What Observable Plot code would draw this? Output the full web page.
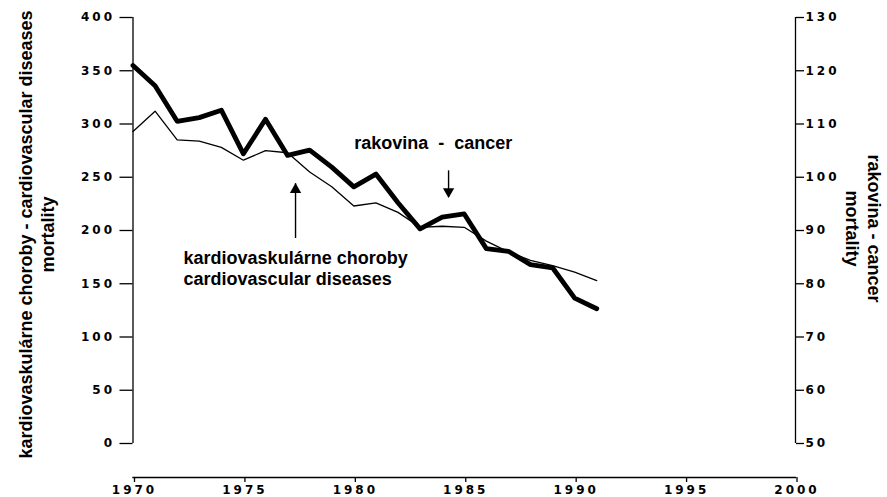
<!DOCTYPE html>
<html><head><meta charset="utf-8">
<script src="https://cdn.jsdelivr.net/npm/d3@7"></script>
<script src="https://cdn.jsdelivr.net/npm/@observablehq/plot@0.6"></script>
<style>
html,body{margin:0;padding:0;background:#fff;}
#chart svg{display:block;}
g[aria-label$="tick label"] text{letter-spacing:3px;}
</style></head><body><div id="chart"></div>
<script>
// ---- data ----
const years = [1970,1971,1972,1973,1974,1975,1976,1977,1978,1979,1980,1981,1982,1983,1984,1985,1986,1987,1988,1989,1990,1991];
// cardiovascular diseases mortality (left axis)
const cardiovascular = [293,312,285,284,278,266,275,273,255,241,223,226,217,203,204,203,190,180,172,167,161,153];
// cancer mortality (right axis)
const cancer = [121.0,117.2,110.5,111.2,112.6,104.4,110.9,104.1,105.1,101.9,98.2,100.6,95.2,90.3,92.5,93.1,86.6,86.1,83.6,83.0,77.3,75.3];
const leftTicks = [0,50,100,150,200,250,300,350,400];
const rightTicks = [50,60,70,80,90,100,110,120,130];
const xTicks = [1970,1975,1980,1985,1990,1995,2000];
const leftTitle = "kardiovaskulárne choroby - cardiovascular diseases\nmortality";
const rightTitle = "rakovina - cancer\nmortality";
const cancerLabel = [{year: 1983.6, value: 282, text: "rakovina \u00a0-\u00a0 cancer"}];
const cvLabel = [{year: 1972.29, value: 165, text: "kardiovaskulárne choroby\ncardiovascular diseases"}];
const arrows = [
  {year: 1984.29, from: 256, to: 231, dir: "down"},
  {year: 1977.36, from: 192.5, to: 244, dir: "up"}
];

// right axis (cancer) expressed in left-axis units
const toLeft = v => (v - 50) * 5;
const fromLeft = v => v / 5 + 50;

const rows = years.map((year, i) => ({year, cv: cardiovascular[i], cancer: toLeft(cancer[i])}));

const font = "Liberation Sans, Arial, sans-serif";
const tickFont = "DejaVu Sans, sans-serif";

const chart = Plot.plot({
  width: 887,
  height: 497,
  marginLeft: 132.5,
  marginRight: 92,
  marginTop: 17,
  marginBottom: 20,
  style: {background: "#fff", color: "#000", overflow: "visible"},
  x: {domain: [1970, 2000]},
  y: {domain: [0, 400], range: [443, 17]},
  marks: [
    // axes
    Plot.frame({anchor: "bottom", stroke: "#000", strokeWidth: 1.3}),
    Plot.axisX({ticks: xTicks, tickFormat: d => String(d), tickSize: 5, tickPadding: 2.5,
      fontFamily: tickFont, fontSize: 12, fontWeight: "bold", strokeWidth: 1.3, dx: 1.5, label: null}),
    Plot.ruleX([1970], {y1: 0, y2: 400, stroke: "#000", strokeWidth: 1.3}),
    Plot.axisY({anchor: "left", ticks: leftTicks, tickFormat: d => String(d), tickSize: 13, tickPadding: 5,
      fontFamily: tickFont, fontSize: 12, fontWeight: "bold", strokeWidth: 1.3, label: null}),
    Plot.ruleX([2000], {y1: 0, y2: 400, stroke: "#000", strokeWidth: 1.3}),
    Plot.axisY({anchor: "right", ticks: rightTicks.map(toLeft), tickFormat: d => String(Math.round(fromLeft(d))),
      tickSize: 8, tickPadding: 2, fontFamily: tickFont, fontSize: 12, fontWeight: "bold", strokeWidth: 1.3, label: null}),
    // axis titles
    Plot.text([leftTitle], {frameAnchor: "left", text: d => d, rotate: -90, dx: -97.5, dy: -13,
      textAnchor: "middle", lineAnchor: "middle",
      fontFamily: font, fontSize: 18, fontWeight: "bold", lineHeight: 1.22, fill: "#000"}),
    Plot.text([rightTitle], {frameAnchor: "right", text: d => d, rotate: 90, dx: 68.5, dy: -19,
      textAnchor: "middle", lineAnchor: "middle",
      fontFamily: font, fontSize: 18, fontWeight: "bold", lineHeight: 1.22, fill: "#000"}),
    // data lines
    Plot.line(rows, {x: "year", y: "cv", stroke: "#000", strokeWidth: 1.3, strokeLinejoin: "round"}),
    Plot.line(rows, {x: "year", y: "cancer", stroke: "#000", strokeWidth: 4.8, strokeLinejoin: "round", strokeLinecap: "round"}),
    // annotations
    Plot.text(cancerLabel, {x: "year", y: "value", text: "text", textAnchor: "middle",
      fontFamily: font, fontSize: 18, fontWeight: "bold", fill: "#000"}),
    Plot.text(cvLabel, {x: "year", y: "value", text: "text", textAnchor: "start",
      fontFamily: font, fontSize: 18, fontWeight: "bold", lineHeight: 1.17, fill: "#000"}),
    Plot.ruleX(arrows, {x: "year", y1: "from", y2: "to", stroke: "#000", strokeWidth: 1.4}),
    Plot.dot(arrows.filter(d => d.dir === "down"), {x: "year", y: "to", symbol: "triangle", r: 4.2, rotate: 180, dy: -6, fill: "#000", stroke: "none"}),
    Plot.dot(arrows.filter(d => d.dir === "up"), {x: "year", y: "to", symbol: "triangle", r: 4.2, dy: 6, fill: "#000", stroke: "none"})
  ]
});
document.getElementById("chart").append(chart);
</script>
</body></html>
